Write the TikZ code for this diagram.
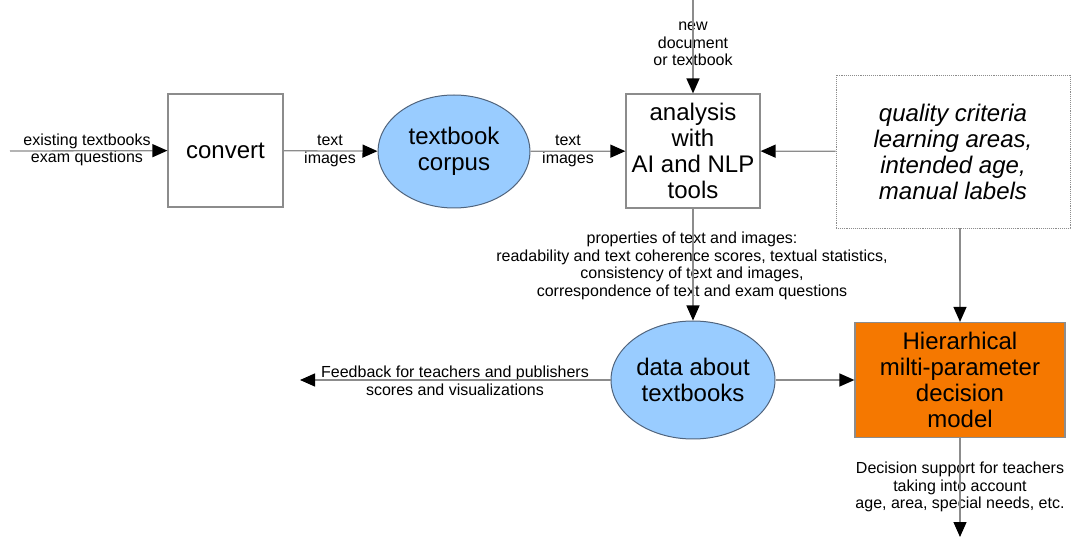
\documentclass[tikz,border=0pt]{standalone}
\usepackage{fontspec}
\setmainfont{Liberation Sans}
\usetikzlibrary{arrows.meta,shapes.geometric}
\definecolor{storeblue}{RGB}{153,204,255}
\definecolor{storeedge}{RGB}{80,100,125}
\definecolor{modelorange}{RGB}{245,120,0}
\definecolor{linegray}{RGB}{140,140,140}

\begin{document}
\begin{tikzpicture}[x=1pt, y=-1pt, >={Triangle[length=15pt,width=13pt,color=black]}]
    \useasboundingbox (0,0) rectangle (1072,537);

    % Define styles
    \tikzstyle{proc}=[rectangle, draw=linegray, line width=1.2pt, align=center, inner sep=0pt, font=\fontsize{24}{26}\selectfont]
    \tikzstyle{store}=[ellipse, draw=storeedge, line width=1pt, fill=storeblue, align=center, inner sep=0pt, font=\fontsize{24}{26}\selectfont]
    \tikzstyle{crit}=[rectangle, draw=linegray, densely dotted, line width=0.9pt, align=center, inner sep=0pt, font=\fontsize{24}{26}\selectfont\itshape]
    \tikzstyle{model}=[rectangle, draw=linegray, line width=1.2pt, fill=modelorange, align=center, inner sep=0pt, font=\fontsize{24}{26}\selectfont]
    \tikzstyle{lbl}=[align=center, inner sep=0pt, font=\fontsize{16}{17.7}\selectfont]
    \tikzstyle{flow}=[->, draw=linegray, line width=1.3pt]

    \node[proc, minimum width=115pt, minimum height=113pt] (convert) at (225.5,150.5) {convert};
    \node[store, minimum width=152pt, minimum height=113pt] (corpus) at (454,151.5) {textbook\\corpus};
    \node[proc, minimum width=134pt, minimum height=114pt] (analysis) at (693,151) {analysis\\with\\AI and NLP\\tools};
    \node[crit, minimum width=234pt, minimum height=153pt] (criteria) at (953,151.5) {quality criteria\\learning areas,\\intended age,\\manual labels};
    \node[store, minimum width=164pt, minimum height=118pt] (data) at (693,380) {data about\\textbooks};
    \node[model, minimum width=210pt, minimum height=115pt] (model) at (960,380) {Hierarhical\\milti-parameter\\decision\\model};

    \coordinate (source) at (10,151);
    \coordinate (newdoc) at (693,0);
    \coordinate (feedback) at (300,380);
    \coordinate (support) at (960,537);

    \node[lbl] (sourcelbl) at (87,150) {existing textbooks\\exam questions};
    \node[lbl] (convlbl) at (330,151) {text\\images};
    \node[lbl] (corplbl) at (568,151) {text\\images};
    \node[lbl] (newlbl) at (693,44) {new\\document\\or textbook};
    \node[lbl] (proplbl) at (692,266) {properties of text and images:\\readability and text coherence scores, textual statistics,\\consistency of text and images,\\correspondence of text and exam questions};
    \node[lbl] (feedlbl) at (455,381) {Feedback for teachers and publishers\\scores and visualizations};
    \node[lbl] (supportlbl) at (960,487) {Decision support for teachers\\taking into account\\age, area, special needs, etc.};

    \draw[flow] (source) -- (convert);
    \draw[flow] (convert) -- (corpus);
    \draw[flow] (corpus) -- (analysis);
    \draw[flow] (newdoc) -- (analysis);
    \draw[flow] (criteria) -- (analysis);
    \draw[flow] (analysis) -- (data);
    \draw[flow] (data) -- (feedback);
    \draw[flow] (data) -- (model);
    \draw[flow] (model |- criteria.south) -- (model);
    \draw[flow] (model) -- (support);
\end{tikzpicture}
\end{document}
